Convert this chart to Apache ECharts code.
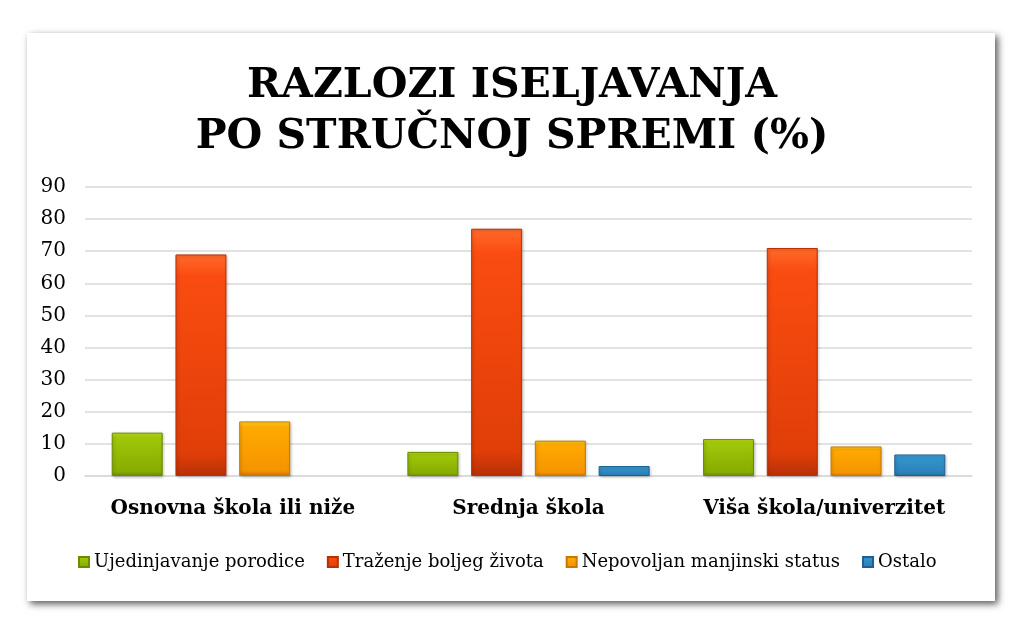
<!DOCTYPE html>
<html><head><meta charset="utf-8">
<script src="https://cdn.jsdelivr.net/npm/echarts@6/dist/echarts.min.js"></script>
<style>
html,body{margin:0;padding:0;background:#fff;}
#card{position:absolute;left:27px;top:33px;width:968px;height:568px;background:#fff;box-shadow:3px 3px 7px rgba(0,0,0,0.65);}
#chart{position:absolute;left:0;top:0;width:1024px;height:640px;}
</style></head>
<body>
<div id="card"></div>
<div id="chart"></div>
<script>
const categories = ['Osnovna škola ili niže', 'Srednja škola', 'Viša škola/univerzitet'];
const seriesNames = ['Ujedinjavanje porodice', 'Traženje boljeg života', 'Nepovoljan manjinski status', 'Ostalo'];
const ujedinjavanje = [13.5, 7.5, 11.5];
const trazenje = [69, 77, 71];
const nepovoljan = [17, 11, 9.2];
const ostalo = [null, 3.1, 6.7];
const yTicks = [0, 10, 20, 30, 40, 50, 60, 70, 80, 90];

const palettes = [
  ['#d4e21a', '#a0c80a', '#86ac00', '#6b8c00'],
  ['#ff6a2a', '#fa4c10', '#e03e08', '#b83006'],
  ['#ffdc2a', '#ffaa00', '#f59400', '#c87800'],
  ['#6ac4f0', '#3496d0', '#2a80b6', '#1f6090']
];
function grad(p){
  return {
    type:'linear', x:0, y:0, x2:0, y2:1,
    colorStops:[{offset:0,color:p[0]},{offset:0.1,color:p[1]},{offset:0.9,color:p[2]},{offset:1,color:p[3]}]
  };
}
const dataSets = [ujedinjavanje, trazenje, nepovoljan, ostalo];
const chart = echarts.init(document.getElementById('chart'));
const serif = '"DejaVu Serif", serif';
chart.setOption({
  backgroundColor:'transparent',
  animation:false,
  title:{
    text:'RAZLOZI ISELJAVANJA\nPO STRUČNOJ SPREMI (%)',
    left:'center', top:56,
    textStyle:{fontFamily:serif, fontWeight:'bold', fontSize:41, lineHeight:51, color:'#000'}
  },
  legend:{
    left:73, top:548,
    itemWidth:10, itemHeight:10, itemGap:22,
    icon:'rect',
    textStyle:{fontFamily:serif, fontSize:18, color:'#000'},
    data:seriesNames
  },
  grid:{left:85, right:52, top:187, bottom:164},
  xAxis:{
    type:'category', data:categories,
    axisLine:{show:true, lineStyle:{color:'#d9d9d9', width:1.5}},
    axisTick:{show:false},
    axisLabel:{interval:0, margin:23, fontFamily:serif, fontWeight:'bold', fontSize:20, color:'#000'}
  },
  yAxis:{
    type:'value', min:0, max:90, interval:10,
    axisLine:{show:false}, axisTick:{show:false},
    axisLabel:{margin:19, fontFamily:serif, fontSize:20, color:'#000',
      formatter:function(v){return yTicks.indexOf(v)>=0 ? String(v) : '';}},
    splitLine:{lineStyle:{color:'#d9d9d9', width:1.5}}
  },
  series:seriesNames.map(function(n,i){
    return {
      name:n, type:'bar', data:dataSets[i],
      barWidth:51, barGap:'25%',
      itemStyle:{color:grad(palettes[i]), borderColor:palettes[i][3], borderWidth:1,
        shadowColor:'rgba(0,0,0,0.25)', shadowBlur:3, shadowOffsetX:1, shadowOffsetY:1}
    };
  })
});
</script>
</body></html>
